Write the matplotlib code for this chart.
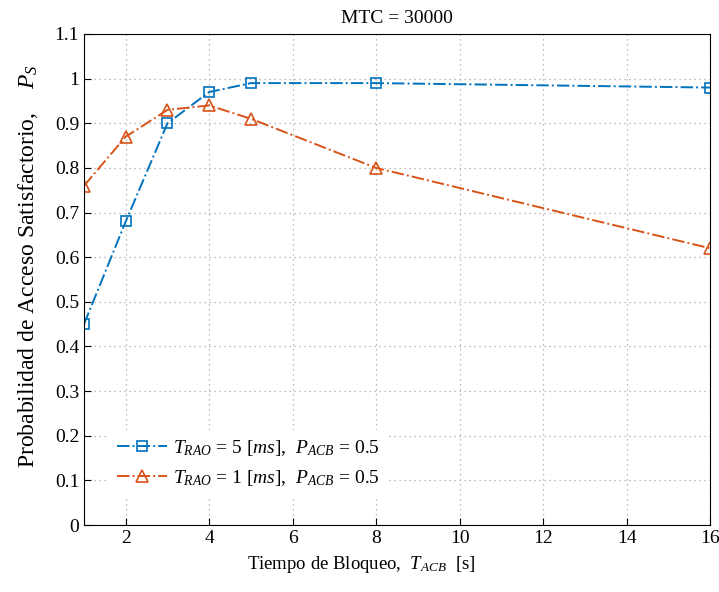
import matplotlib
matplotlib.use("Agg")
import matplotlib.pyplot as plt

plt.rcParams['font.family'] = ['Liberation Serif', 'DejaVu Serif']
plt.rcParams['mathtext.fontset'] = 'custom'
plt.rcParams['mathtext.rm'] = 'Liberation Serif'
plt.rcParams['mathtext.it'] = 'Liberation Serif:italic'

t_acb = [1, 2, 3, 4, 5, 8, 16]
ps_trao5 = [0.45, 0.68, 0.90, 0.97, 0.99, 0.99, 0.98]
ps_trao1 = [0.76, 0.87, 0.93, 0.94, 0.91, 0.80, 0.62]

xticks = [2, 4, 6, 8, 10, 12, 14, 16]
yticks = [0, 0.1, 0.2, 0.3, 0.4, 0.5, 0.6, 0.7, 0.8, 0.9, 1, 1.1]
ytick_labels = ["0", "0.1", "0.2", "0.3", "0.4", "0.5", "0.6", "0.7", "0.8", "0.9", "1", "1.1"]

fig = plt.figure(figsize=(7.19, 5.92), dpi=100)
ax = fig.add_axes([84/719, 1-525/592, (710-84)/719, (525-34)/592])

ax.plot(t_acb, ps_trao5, color="#0072BD", ls="-.", marker="s", ms=7, mfc="none",
        mew=1.2, lw=1.4, label=r"$T_{RAO}$ = 5 [$ms$],  $P_{ACB}$ = 0.5")
ax.plot(t_acb, ps_trao1, color="#D95319", ls="-.", marker="^", ms=9, mfc="none",
        mew=1.2, lw=1.4, label=r"$T_{RAO}$ = 1 [$ms$],  $P_{ACB}$ = 0.5")

ax.set_xlim(1, 16)
ax.set_ylim(0, 1.1)
ax.set_xticks(xticks)
ax.set_yticks(yticks)
ax.set_yticklabels(ytick_labels)
ax.tick_params(direction="in", labelsize=14, length=5)
ax.grid(ls=(0, (1, 3)), color="#a8a8a8", lw=0.9)
ax.set_axisbelow(True)

ax.set_title("MTC = 30000", fontsize=14, pad=8)
ax.set_xlabel(r"Tiempo de Bloqueo,  $T_{ACB}$  [s]", fontsize=13.5)
ax.xaxis.set_label_coords((361-84)/626, -0.06)
ax.set_ylabel(r"Probabilidad de Acceso Satisfactorio,    $P_S$", fontsize=17)
ax.yaxis.set_label_coords(-0.07, 0.527)

leg = ax.legend(loc="lower left", bbox_to_anchor=(0.04, 0.06), frameon=True,
                fontsize=14, handlelength=2.6, handletextpad=0.3, borderaxespad=0)
leg.get_frame().set_edgecolor("none")
leg.get_frame().set_facecolor("white")
leg.get_frame().set_alpha(1)

fig.savefig("out.png", dpi=100)
